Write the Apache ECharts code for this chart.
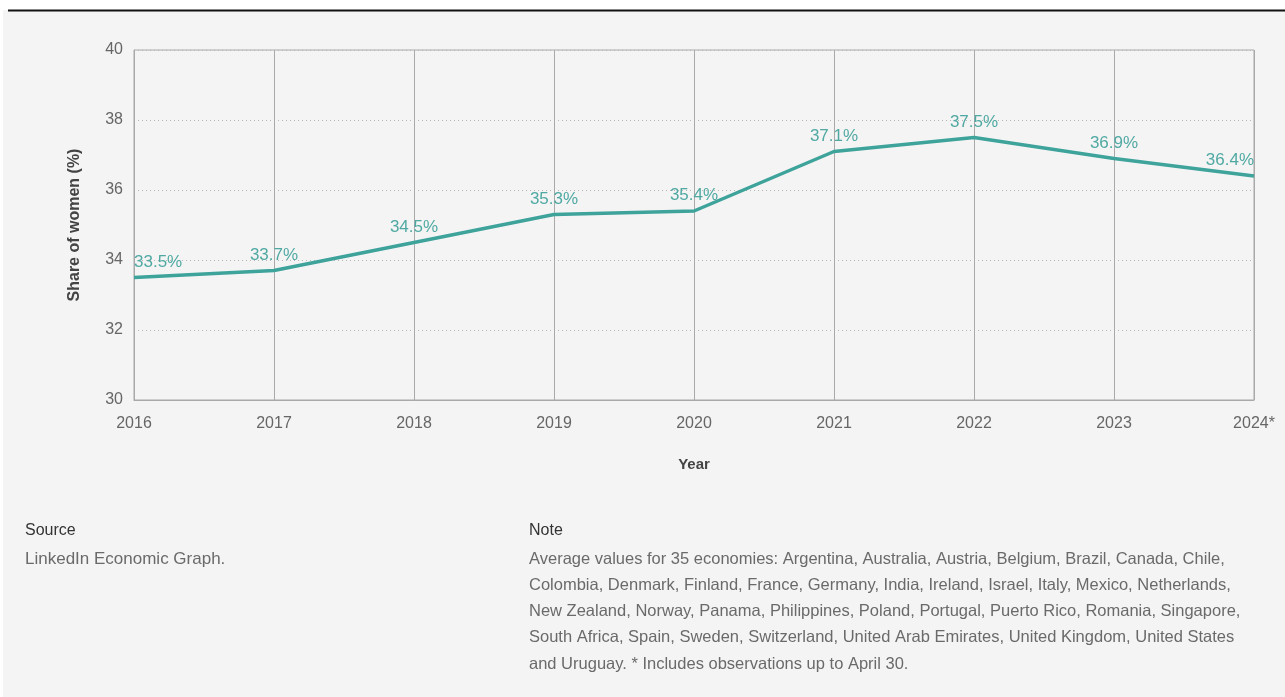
<!DOCTYPE html>
<html>
<head>
<meta charset="utf-8">
<script src="https://cdn.jsdelivr.net/npm/echarts@6/dist/echarts.min.js"></script>
<style>
  html, body { margin: 0; padding: 0; background: #ffffff; }
  #chart { width: 1285px; height: 697px; }
</style>
</head>
<body>
<div id="chart"></div>
<script>
// Share of women, average of 35 economies
const years = ['2016', '2017', '2018', '2019', '2020', '2021', '2022', '2023', '2024*'];
const shareOfWomen = [33.5, 33.7, 34.5, 35.3, 35.4, 37.1, 37.5, 36.9, 36.4];
const yTicks = [30, 32, 34, 36, 38, 40];

const sourceTitle = 'Source';
const sourceLines = ['LinkedIn Economic Graph.'];
const noteTitle = 'Note';
const noteLines = [
  'Average values for 35 economies: Argentina, Australia, Austria, Belgium, Brazil, Canada, Chile,',
  'Colombia, Denmark, Finland, France, Germany, India, Ireland, Israel, Italy, Mexico, Netherlands,',
  'New Zealand, Norway, Panama, Philippines, Poland, Portugal, Puerto Rico, Romania, Singapore,',
  'South Africa, Spain, Sweden, Switzerland, United Arab Emirates, United Kingdom, United States',
  'and Uruguay. * Includes observations up to April 30.'
];

const FONT = '"Liberation Sans", Arial, sans-serif';
const TEAL = '#3ea39b';
const TEAL_LABEL = '#4fa9a2';

const chart = echarts.init(document.getElementById('chart'), null, { renderer: 'canvas' });

// point labels: first one hangs right of its point, last one left of it
const lineData = shareOfWomen.map((v, i) => {
  const item = { value: v };
  if (i === 0) item.label = { align: 'left' };
  if (i === shareOfWomen.length - 1) item.label = { align: 'right' };
  return item;
});

const graphics = [
  { type: 'rect', shape: { x: 0, y: 0, width: 1285, height: 10 }, style: { fill: '#ffffff' }, z: -1 },
  { type: 'rect', shape: { x: 0, y: 0, width: 3, height: 697 }, style: { fill: '#ffffff' }, z: -1 },
  { type: 'line', shape: { x1: 8, y1: 10.5, x2: 1285, y2: 10.5 }, style: { stroke: '#111111', lineWidth: 2 } }
];

const addText = (x, y, str, size, color) => graphics.push({
  type: 'text', x: x, y: y,
  style: { text: str, font: size + 'px ' + FONT, fill: color, verticalAlign: 'middle' }
});

addText(25, 531, sourceTitle, 16, '#333333');
sourceLines.forEach((s, i) => addText(25, 559 + i * 26.3, s, 17, '#6a6a6a'));
addText(529, 531, noteTitle, 16, '#333333');
noteLines.forEach((s, i) => addText(529, 559 + i * 26.3, s, 16.5, '#6a6a6a'));

chart.setOption({
  backgroundColor: '#f4f4f4',
  animation: false,
  textStyle: { fontFamily: FONT },
  grid: {
    left: 134, right: 31, top: 50, bottom: 297,
    show: true, borderColor: '#a9a9a9', borderWidth: 1, backgroundColor: 'transparent'
  },
  xAxis: {
    type: 'category',
    data: years,
    boundaryGap: false,
    name: 'Year',
    nameLocation: 'middle',
    nameGap: 57,
    nameTextStyle: { fontSize: 15, fontWeight: 'bold', color: '#444444', fontFamily: FONT },
    axisLine: { show: true, lineStyle: { color: '#a9a9a9', width: 1 } },
    axisTick: { show: false },
    axisLabel: { color: '#666666', fontSize: 16, margin: 16, fontFamily: FONT },
    splitLine: { show: true, lineStyle: { color: '#a9a9a9', width: 1, type: 'solid' } }
  },
  yAxis: {
    type: 'value',
    min: yTicks[0],
    max: yTicks[yTicks.length - 1],
    interval: yTicks[1] - yTicks[0],
    name: 'Share of women (%)',
    nameLocation: 'middle',
    nameRotate: 90,
    nameGap: 51,
    nameTextStyle: { fontSize: 16, fontWeight: 'bold', color: '#444444', fontFamily: FONT },
    axisLine: { show: true, lineStyle: { color: '#a9a9a9', width: 1 } },
    axisTick: { show: false },
    axisLabel: { color: '#666666', fontSize: 16, margin: 11, padding: [0, 0, 14, 0], fontFamily: FONT },
    splitLine: { show: true, lineStyle: { color: '#b5b5b5', width: 1, type: [1, 3] } }
  },
  series: [{
    type: 'line',
    data: lineData,
    showSymbol: true,
    symbol: 'circle',
    symbolSize: 0.1,
    lineStyle: { color: TEAL, width: 3.5 },
    itemStyle: { color: TEAL },
    label: {
      show: true,
      position: 'top',
      distance: 7,
      color: TEAL_LABEL,
      fontSize: 17,
      fontFamily: FONT,
      formatter: p => p.value.toFixed(1) + '%'
    },
    z: 5
  }],
  graphic: graphics
});
</script>
</body>
</html>
